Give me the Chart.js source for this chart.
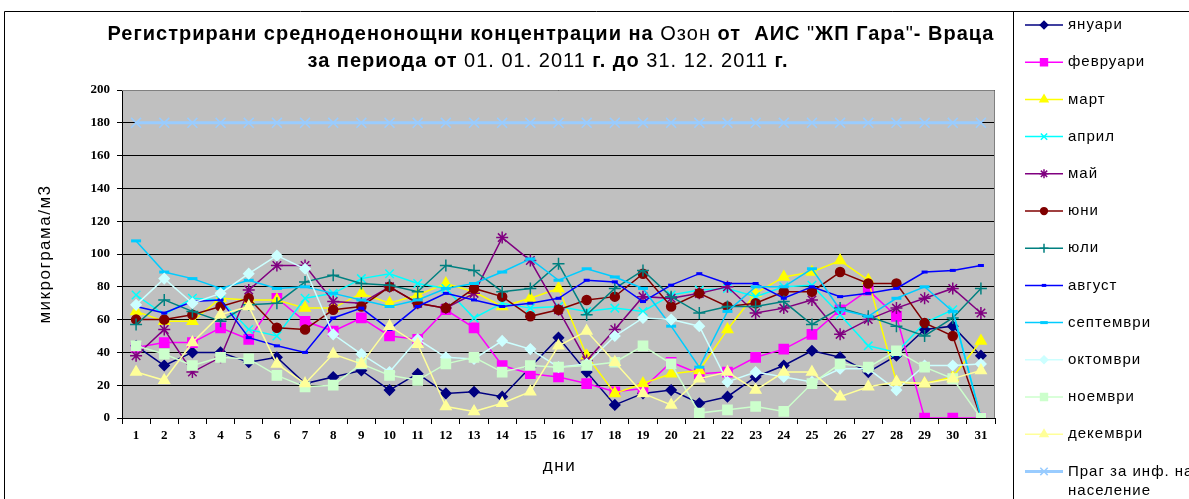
<!DOCTYPE html>
<html>
<head>
<meta charset="utf-8">
<script src="https://cdn.jsdelivr.net/npm/chart.js@4/dist/chart.umd.min.js"></script>
<style>
html, body { margin: 0; padding: 0; background: #fff; overflow: hidden; }
canvas { display: block; }
</style>
</head>
<body>
<canvas id="chart" width="1189" height="499"></canvas>
<script>
// days of the month
const days = ["1","2","3","4","5","6","7","8","9","10","11","12","13","14","15","16","17","18","19","20","21","22","23","24","25","26","27","28","29","30","31"];

// daily average ozone, µg/m3
const january  = [44,32,40,40,34,37,21,25,29,17,27,15,16,13,31,49,28,8,15,17,9,13,25,32,41,37,28,38,54,56,38];
const february = [43,46,46,55,48,73,59,53,61,50,48,66,55,32,27,25,21,16,18,34,27,28,37,42,51,66,78,62,0,0,0];
const march    = [65,59,59,73,72,72,67,67,76,70,75,82,77,68,73,79,38,15,21,27,29,54,76,86,89,96,84,22,21,25,47];
const april    = [75,63,73,72,54,50,73,76,85,88,82,79,61,70,67,68,65,67,65,75,78,79,74,80,81,63,44,40,58,66,0];
const may      = [38,54,28,37,78,93,93,71,70,80,70,67,76,110,96,66,35,54,74,73,76,80,64,67,72,51,60,67,73,79,64];
const june     = [60,60,63,68,73,55,54,66,68,80,70,67,79,74,62,66,72,74,88,68,76,68,70,77,77,89,82,82,58,50,0];
const july     = [57,72,65,59,69,70,83,87,82,81,77,93,90,77,79,94,63,79,90,74,64,68,68,71,57,67,62,56,50,61,79];
const august   = [68,64,71,72,49,44,40,61,67,54,68,76,72,68,70,73,84,83,71,81,88,82,82,73,80,74,76,79,89,90,93];
const september= [108,89,85,79,84,79,80,76,72,68,72,79,82,89,97,84,91,86,79,56,31,65,80,80,91,66,62,73,80,65,0];
const october  = [69,85,70,76,88,99,91,51,39,28,48,37,36,47,42,31,33,50,61,60,56,22,28,25,22,30,30,17,32,32,33];
const november = [44,39,32,37,36,26,19,20,33,26,23,33,37,28,32,31,32,34,44,33,3,5,7,4,21,33,31,41,31,24,0];
const december = [28,23,46,63,68,33,21,39,33,56,45,7,4,9,16,44,53,34,15,8,24,28,17,28,28,13,19,22,21,24,29];
const threshold= [180,180,180,180,180,180,180,180,180,180,180,180,180,180,180,180,180,180,180,180,180,180,180,180,180,180,180,180,180,180,180];

const yTicks = [0,20,40,60,80,100,120,140,160,180,200];

const titleLines = [
    [["Регистрирани средноденонощни концентрации на ", true], ["Озон", false], [" от  АИС ", true], ['"', false], ["ЖП Гара", true], ['"', false], ["- Враца", true]],
    [["за периода от ", true], ["01. 01. 2011 ", false], ["г. до ", true], ["31. 12. 2011 ", false], ["г.", true]]
];
const xTitle = "дни";
const yTitle = "микрограма/м3";

function series(label, data, color, style, radius, extra) {
    return Object.assign({
        label: label,
        data: data,
        borderColor: color,
        backgroundColor: color,
        borderWidth: 1.5,
        pointStyle: style,
        pointRadius: radius,
        pointBackgroundColor: color,
        pointBorderColor: color,
        pointBorderWidth: 1.5,
        fill: false,
        tension: 0
    }, extra || {});
}

const datasets = [
    series("януари", january, "#000080", "rectRot", 5),
    series("февруари", february, "#ff00ff", "rect", 6.5),
    series("март", march, "#ffff00", "triangle", 6),
    series("април", april, "#00ffff", "crossRot", 6),
    series("май", may, "#800080", "star", 6),
    series("юни", june, "#800000", "circle", 4.5),
    series("юли", july, "#008080", "cross", 6),
    series("август", august, "#0000ff", "line", 3, { pointBorderWidth: 3 }),
    series("септември", september, "#00ccff", "line", 5, { pointBorderWidth: 3 }),
    series("октомври", october, "#ccffff", "rectRot", 5),
    series("ноември", november, "#ccffcc", "rect", 6.5),
    series("декември", december, "#ffff99", "triangle", 6),
    series(["Праг за инф. на", "население"], threshold, "#99ccff", "crossRot", 7, { borderWidth: 3 })
];
// Excel draws later series on top
datasets.forEach((d, i) => d.order = datasets.length - i);

const SANS = "'Liberation Sans', Arial, sans-serif";

// grey plot area with a grey frame
const plotBack = {
    id: "plotBack",
    beforeDraw(chart) {
        const a = chart.chartArea, ctx = chart.ctx;
        ctx.save();
        ctx.fillStyle = "#c0c0c0";
        ctx.fillRect(a.left, a.top, a.right - a.left, a.bottom - a.top);
        ctx.restore();
    },
    beforeDatasetsDraw(chart) {
        const a = chart.chartArea, ctx = chart.ctx;
        ctx.save();
        ctx.strokeStyle = "#808080";
        ctx.lineWidth = 1;
        ctx.beginPath();
        ctx.moveTo(a.left, a.top + 0.5);
        ctx.lineTo(a.right - 0.5, a.top + 0.5);
        ctx.lineTo(a.right - 0.5, a.bottom);
        ctx.stroke();
        ctx.restore();
    }
};

// two-line title with mixed weights, plus the axis titles
const texts = {
    id: "texts",
    afterDraw(chart) {
        const ctx = chart.ctx, a = chart.chartArea;
        ctx.save();
        ctx.fillStyle = "#000";
        ctx.textBaseline = "middle";
        ctx.letterSpacing = "1px";
        const fontOf = b => (b ? "bold " : "") + "20px " + SANS;
        const widthOf = line => line.reduce((w, p) => { ctx.font = fontOf(p[1]); return w + ctx.measureText(p[0]).width; }, 0);
        const sx = 887 / widthOf(titleLines[0]);
        const pos = [[551, 34], [548, 61]];
        titleLines.forEach((line, i) => {
            const w = widthOf(line) * sx;
            ctx.save();
            ctx.translate(pos[i][0] - w / 2, pos[i][1]);
            ctx.scale(sx, 1);
            let x = 0;
            line.forEach(p => {
                ctx.font = fontOf(p[1]);
                ctx.fillText(p[0], x, 0);
                x += ctx.measureText(p[0]).width;
            });
            ctx.restore();
        });

        ctx.letterSpacing = "1.5px";
        ctx.font = "17px " + SANS;
        ctx.textAlign = "center";
        ctx.fillText(xTitle, (a.left + a.right) / 2 + 1, 466);
        ctx.save();
        ctx.translate(45, (a.top + a.bottom) / 2);
        ctx.rotate(-Math.PI / 2);
        ctx.fillText(yTitle, 0, 0);
        ctx.restore();
        ctx.restore();
    }
};

// outer frame and legend box on the right
const sideLegend = {
    id: "sideLegend",
    afterDraw(chart) {
        const ctx = chart.ctx;
        ctx.save();
        ctx.strokeStyle = "#000";
        ctx.lineWidth = 1;
        ctx.beginPath();
        ctx.moveTo(4.5, 499); ctx.lineTo(4.5, 11.5); ctx.lineTo(1189, 11.5);
        ctx.moveTo(1013.5, 11.5); ctx.lineTo(1013.5, 499);
        ctx.stroke();

        ctx.font = "15px " + SANS;
        ctx.letterSpacing = "1px";
        ctx.textBaseline = "middle";
        chart.data.datasets.forEach((ds, i) => {
            const y = 25 + i * 37.2;
            ctx.strokeStyle = ds.borderColor;
            ctx.lineWidth = ds.borderWidth;
            ctx.beginPath();
            ctx.moveTo(1025, y);
            ctx.lineTo(1063, y);
            ctx.stroke();
            ctx.fillStyle = ds.pointBackgroundColor;
            ctx.strokeStyle = ds.pointBorderColor;
            ctx.lineWidth = ds.pointBorderWidth;
            Chart.helpers.drawPoint(ctx, {
                pointStyle: ds.pointStyle,
                radius: ds.pointRadius * 0.75,
                rotation: 0,
                borderWidth: ds.pointBorderWidth
            }, 1044, y);
            ctx.fillStyle = "#000";
            const lines = Array.isArray(ds.label) ? ds.label : [ds.label];
            lines.forEach((t, k) => ctx.fillText(t, 1068, y + k * 19));
        });
        ctx.restore();
    }
};

const tickFont = { family: "'Liberation Serif', 'Times New Roman', serif", weight: "bold", size: 13 };

new Chart(document.getElementById("chart"), {
    type: "line",
    data: { labels: days, datasets: datasets },
    options: {
        responsive: false,
        animation: false,
        events: [],
        layout: { padding: { left: 0, top: 90, right: 194, bottom: 0 } },
        plugins: {
            legend: { display: false },
            title: { display: false },
            tooltip: { enabled: false }
        },
        scales: {
            x: {
                type: "category",
                offset: true,
                grid: { offset: true, drawOnChartArea: false, drawTicks: true, tickLength: 6, color: "#000" },
                border: { color: "#000", width: 1 },
                ticks: { font: tickFont, color: "#000", padding: 4, maxRotation: 0, autoSkip: false },
                afterFit: s => { s.height = 81; }
            },
            y: {
                min: 0,
                max: 200,
                afterBuildTicks: s => { s.ticks = yTicks.map(v => ({ value: v })); },
                grid: { color: "#000", lineWidth: 1, tickLength: 5 },
                border: { color: "#000", width: 1 },
                ticks: { font: tickFont, color: "#000", padding: 7 },
                afterFit: s => { s.width = 122; }
            }
        }
    },
    plugins: [plotBack, texts, sideLegend]
});
</script>
</body>
</html>
